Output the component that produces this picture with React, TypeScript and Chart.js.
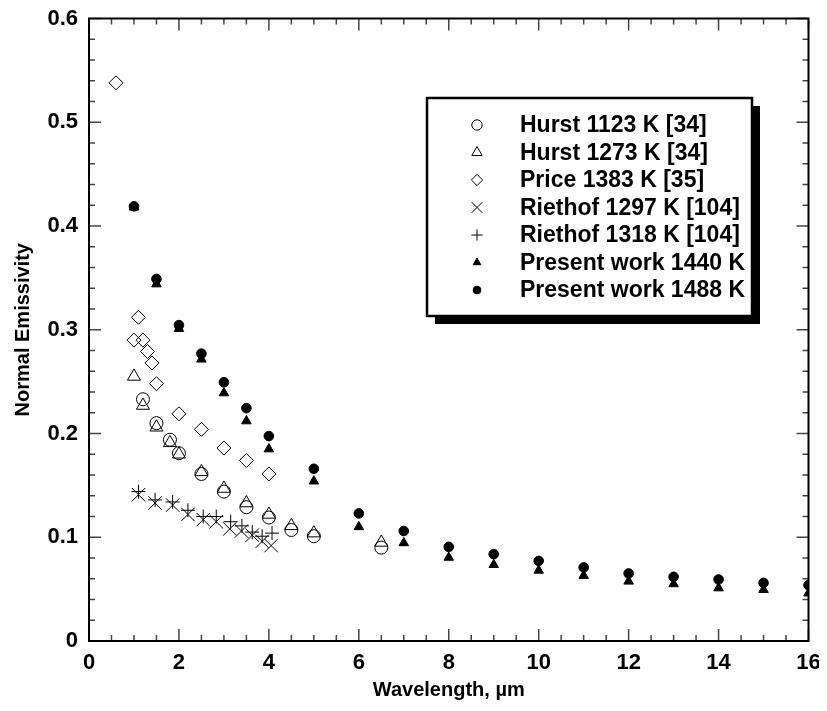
import React, { useEffect, useRef } from "react";
import { Chart, registerables } from "chart.js";
Chart.register(...registerables);

// ---- data (wavelength µm, normal emissivity) ----
const hurst1123X = [1.2, 1.5, 1.8, 2.0, 2.5, 3.0, 3.5, 4.0, 4.5, 5.0, 6.5];
const hurst1123Y = [0.233, 0.21, 0.194, 0.181, 0.161, 0.144, 0.129, 0.119, 0.107, 0.101, 0.09];

const hurst1273X = [1.0, 1.2, 1.5, 1.8, 2.0, 2.5, 3.0, 3.5, 4.0, 4.5, 5.0, 6.5];
const hurst1273Y = [0.255, 0.227, 0.206, 0.191, 0.18, 0.163, 0.147, 0.133, 0.122, 0.111, 0.104, 0.095];

const priceX = [0.6, 1.0, 1.1, 1.2, 1.3, 1.4, 1.5, 2.0, 2.5, 3.0, 3.5, 4.0];
const priceY = [0.538, 0.29, 0.312, 0.29, 0.279, 0.268, 0.248, 0.219, 0.204, 0.186, 0.174, 0.161];

const riethof1297X = [1.1, 1.47, 1.86, 2.2, 2.54, 2.83, 3.13, 3.39, 3.63, 3.85, 4.05];
const riethof1297Y = [0.141, 0.133, 0.131, 0.122, 0.117, 0.115, 0.108, 0.106, 0.102, 0.096, 0.092];

const riethof1318X = [1.1, 1.47, 1.86, 2.2, 2.54, 2.83, 3.15, 3.4, 3.63, 3.85, 4.07];
const riethof1318Y = [0.144, 0.136, 0.134, 0.126, 0.12, 0.12, 0.115, 0.111, 0.105, 0.101, 0.104];

const present1440X = [1, 1.5, 2, 2.5, 3, 3.5, 4, 5, 6, 7, 8, 9, 10, 11, 12, 13, 14, 15, 16];
const present1440Y = [0.418, 0.344, 0.301, 0.2715, 0.239, 0.212, 0.185, 0.154, 0.11, 0.0945, 0.0805, 0.0735, 0.068, 0.063, 0.0575, 0.055, 0.051, 0.0495, 0.046];

const present1488X = [1, 1.5, 2, 2.5, 3, 3.5, 4, 5, 6, 7, 8, 9, 10, 11, 12, 13, 14, 15, 16];
const present1488Y = [0.419, 0.349, 0.3045, 0.277, 0.2494, 0.2244, 0.1975, 0.166, 0.123, 0.106, 0.0907, 0.0837, 0.0772, 0.0709, 0.0651, 0.0619, 0.0593, 0.056, 0.0538];

const seriesLabels = [
  "Hurst 1123 K [34]",
  "Hurst 1273 K [34]",
  "Price 1383 K [35]",
  "Riethof 1297 K [104]",
  "Riethof 1318 K [104]",
  "Present work 1440 K",
  "Present work 1488 K",
];

const xTickValues = [0, 2, 4, 6, 8, 10, 12, 14, 16];
const yTickValues = [0, 0.1, 0.2, 0.3, 0.4, 0.5, 0.6];

const FONT = "'Liberation Sans', Arial, sans-serif";

const pts = (xs: number[], ys: number[]) => xs.map((x, i) => ({ x, y: ys[i] }));

type Marker = { style: string; r: number; fill: boolean };
const markers: Marker[] = [
  { style: "circle", r: 6.5, fill: false },
  { style: "triangle", r: 7.5, fill: false },
  { style: "rectRot", r: 7, fill: false },
  { style: "crossRot", r: 9.5, fill: false },
  { style: "cross", r: 7, fill: false },
  { style: "triangle", r: 5.5, fill: true },
  { style: "circle", r: 4.8, fill: true },
];

function drawMarker(ctx: CanvasRenderingContext2D, m: Marker, x: number, y: number, scale: number) {
  const r = m.r * scale;
  ctx.beginPath();
  if (m.style === "circle") {
    ctx.arc(x, y, r, 0, Math.PI * 2);
  } else if (m.style === "triangle") {
    for (let k = 0; k < 3; k++) {
      const a = (k * 2 * Math.PI) / 3;
      const px = x + Math.sin(a) * r;
      const py = y - Math.cos(a) * r;
      if (k === 0) ctx.moveTo(px, py);
      else ctx.lineTo(px, py);
    }
    ctx.closePath();
  } else if (m.style === "rectRot") {
    ctx.moveTo(x - r, y);
    ctx.lineTo(x, y - r);
    ctx.lineTo(x + r, y);
    ctx.lineTo(x, y + r);
    ctx.closePath();
  } else if (m.style === "crossRot") {
    const o = r * Math.SQRT1_2;
    ctx.moveTo(x - o, y - o);
    ctx.lineTo(x + o, y + o);
    ctx.moveTo(x + o, y - o);
    ctx.lineTo(x - o, y + o);
  } else if (m.style === "cross") {
    ctx.moveTo(x - r, y);
    ctx.lineTo(x + r, y);
    ctx.moveTo(x, y - r);
    ctx.lineTo(x, y + r);
  }
  if (m.fill) {
    ctx.fillStyle = "#000";
    ctx.fill();
  }
  ctx.strokeStyle = "#000";
  ctx.lineWidth = 1;
  ctx.stroke();
}

const framePlugin = {
  id: "frameAndLegend",
  afterDraw(chart: any) {
    const { ctx, chartArea: a, scales } = chart;
    const xs = scales.x;
    const ys = scales.y;
    ctx.save();
    // inward ticks on all four sides
    ctx.strokeStyle = "#444";
    ctx.lineWidth = 1.5;
    const line = (x1: number, y1: number, x2: number, y2: number) => {
      ctx.beginPath();
      ctx.moveTo(x1, y1);
      ctx.lineTo(x2, y2);
      ctx.stroke();
    };
    for (let i = 0; i <= 32; i++) {
      const v = i * 0.5;
      const px = xs.getPixelForValue(v);
      const len = i % 4 === 0 ? 12 : 6;
      line(px, a.bottom, px, a.bottom - len);
      line(px, a.top, px, a.top + len);
    }
    for (let i = 0; i <= 30; i++) {
      const v = i * 0.02;
      const py = ys.getPixelForValue(v);
      const len = i % 5 === 0 ? 12 : 6;
      line(a.left, py, a.left + len, py);
      line(a.right, py, a.right - len, py);
    }
    // frame
    ctx.strokeStyle = "#000";
    ctx.lineWidth = 2;
    ctx.strokeRect(a.left, a.top, a.right - a.left, a.bottom - a.top);

    // legend box with shadow
    const bx = 419, by = 90, bw = 325, bh = 218, sh = 8;
    ctx.fillStyle = "#000";
    ctx.fillRect(bx + sh, by + sh, bw, bh);
    ctx.fillStyle = "#fff";
    ctx.fillRect(bx, by, bw, bh);
    ctx.lineWidth = 2.5;
    ctx.strokeRect(bx, by, bw, bh);

    ctx.font = `bold 23px ${FONT}`;
    ctx.textBaseline = "middle";
    ctx.textAlign = "left";
    for (let i = 0; i < seriesLabels.length; i++) {
      const yy = 117 + i * 27.5;
      drawMarker(ctx, markers[i], 469, yy, 0.8);
      ctx.fillStyle = "#000";
      ctx.fillText(seriesLabels[i], 512, yy + 1);
    }
    ctx.restore();
  },
};

export default function App() {
  const ref = useRef<HTMLCanvasElement | null>(null);
  useEffect(() => {
    if (!ref.current) return;
    const xsList = [hurst1123X, hurst1273X, priceX, riethof1297X, riethof1318X, present1440X, present1488X];
    const ysList = [hurst1123Y, hurst1273Y, priceY, riethof1297Y, riethof1318Y, present1440Y, present1488Y];
    const datasets = seriesLabels.map((label, i) => ({
      label,
      data: pts(xsList[i], ysList[i]),
      showLine: false,
      pointStyle: markers[i].style as any,
      pointRadius: markers[i].r,
      pointHoverRadius: markers[i].r,
      pointBorderWidth: 1,
      pointBorderColor: "#000",
      pointBackgroundColor: markers[i].fill ? "#000" : "rgba(0,0,0,0)",
      borderColor: "#000",
      backgroundColor: markers[i].fill ? "#000" : "rgba(0,0,0,0)",
    }));
    const chart = new Chart(ref.current, {
      type: "scatter",
      data: { datasets },
      plugins: [framePlugin],
      options: {
        animation: false,
        responsive: true,
        maintainAspectRatio: false,
        layout: { padding: { top: 9, right: 9, left: 0, bottom: 0 } },
        plugins: { legend: { display: false }, tooltip: { enabled: false } },
        scales: {
          x: {
            type: "linear",
            min: 0,
            max: 16,
            afterBuildTicks: (s: any) => {
              s.ticks = xTickValues.map((v) => ({ value: v }));
            },
            ticks: {
              color: "#000",
              font: { family: FONT, size: 22, weight: "bold" },
              padding: 9,
              maxRotation: 0,
              callback: (v: any) => String(v),
            },
            grid: { display: false, drawTicks: false },
            border: { display: false },
            title: {
              display: true,
              text: "Wavelength, µm",
              color: "#000",
              font: { family: FONT, size: 20, weight: "bold" },
              padding: { top: 0, bottom: 1 },
            },
            afterFit: (s: any) => {
              s.height = 62;
              s.paddingLeft = 0;
              s.paddingRight = 0;
            },
          },
          y: {
            type: "linear",
            min: 0,
            max: 0.6,
            afterBuildTicks: (s: any) => {
              s.ticks = yTickValues.map((v) => ({ value: v }));
            },
            ticks: {
              color: "#000",
              font: { family: FONT, size: 22, weight: "bold" },
              padding: 11,
              callback: (v: any) => (Number(v) === 0 ? "0" : Number(v).toFixed(1)),
            },
            grid: { display: false, drawTicks: false },
            border: { display: false },
            title: {
              display: true,
              text: "Normal Emissivity",
              color: "#000",
              font: { family: FONT, size: 20, weight: "bold" },
              padding: { top: 3, bottom: 0 },
            },
            afterFit: (s: any) => {
              s.width = 81;
              s.paddingTop = 0;
              s.paddingBottom = 0;
            },
          },
        },
      },
    });
    return () => chart.destroy();
  }, []);
  return (
    <div style={{ width: 811, height: 695, position: "relative" }}>
      <canvas ref={ref} />
    </div>
  );
}
